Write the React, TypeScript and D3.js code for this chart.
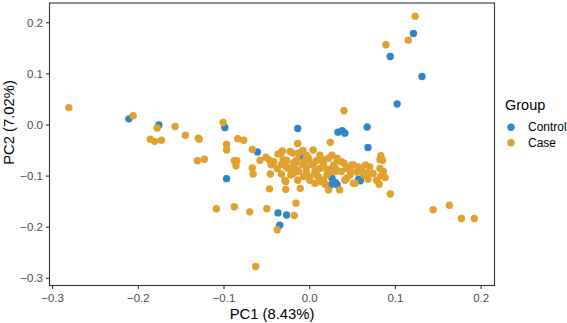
import React from 'react';
import { scaleLinear } from 'd3';

// PCA scores, [PC1, PC2]
const controlPoints: [number, number][] = [
  [-0.211, 0.012], [-0.176, 0.000], [-0.099, -0.005], [-0.097, -0.105],
  [-0.061, -0.053], [-0.014, -0.007], [0.033, -0.014], [0.038, -0.011],
  [0.041, -0.016], [0.067, -0.004], [0.068, -0.044], [0.102, 0.041],
  [0.131, 0.095], [0.094, 0.134], [0.121, 0.179], [-0.037, -0.172],
  [-0.027, -0.176], [-0.035, -0.196], [-0.009, -0.062], [-0.017, -0.072],
  [0.004, -0.078], [0.026, -0.104], [0.030, -0.113], [0.057, -0.106],
  [0.024, -0.118], [0.032, -0.117], [0.059, -0.109], [0.027, -0.084],
];

const casePoints: [number, number][] = [
  [-0.281, 0.034], [-0.206, 0.018], [-0.178, -0.006], [-0.157, -0.003],
  [-0.186, -0.028], [-0.181, -0.032], [-0.173, -0.030], [-0.145, -0.020],
  [-0.130, -0.026], [-0.129, -0.028], [-0.131, -0.070], [-0.123, -0.067],
  [-0.101, 0.005], [-0.097, -0.038], [-0.097, -0.049], [-0.084, -0.027],
  [-0.077, -0.030], [-0.088, -0.070], [-0.085, -0.070], [-0.086, -0.080],
  [-0.067, -0.048], [-0.067, -0.084], [-0.066, -0.096], [-0.058, -0.069],
  [-0.051, -0.063], [-0.047, -0.069], [-0.045, -0.078], [-0.037, -0.057],
  [-0.032, -0.051], [-0.027, -0.069], [-0.033, -0.077], [-0.020, -0.055],
  [-0.014, -0.036], [-0.013, -0.055], [-0.019, -0.075], [-0.017, -0.085],
  [-0.025, -0.085], [-0.046, -0.096], [-0.047, -0.125], [-0.028, -0.126],
  [-0.028, -0.111], [-0.011, -0.124], [-0.014, -0.108], [-0.033, -0.096],
  [-0.022, -0.098], [-0.109, -0.164], [-0.088, -0.160], [-0.070, -0.170],
  [-0.050, -0.164], [-0.016, -0.153], [-0.018, -0.177], [-0.038, -0.205],
  [-0.063, -0.277], [0.024, -0.034], [0.040, 0.028], [-0.008, -0.050],
  [-0.002, -0.063], [0.012, -0.059], [0.016, -0.068], [0.026, -0.059],
  [0.032, -0.065], [0.037, -0.072], [-0.004, -0.082], [0.006, -0.091],
  [0.020, -0.086], [0.030, -0.091], [0.045, -0.082], [0.051, -0.078],
  [0.057, -0.082], [0.065, -0.078], [0.070, -0.082], [0.082, -0.085],
  [0.074, -0.095], [0.083, -0.100], [0.063, -0.098], [0.043, -0.104],
  [0.051, -0.114], [0.081, -0.116], [0.000, -0.108], [0.010, -0.101],
  [0.012, -0.111], [0.018, -0.116], [0.035, -0.127], [0.022, -0.127],
  [-0.007, -0.101], [0.047, -0.088], [0.083, -0.060], [0.085, -0.069],
  [0.088, -0.103], [0.094, -0.135], [0.068, -0.106], [0.063, -0.093],
  [0.086, -0.091], [0.144, -0.166], [0.163, -0.157], [0.177, -0.183],
  [0.192, -0.183], [0.089, 0.157], [0.115, 0.166], [0.123, 0.213],
  [-0.001, -0.068], [0.004, -0.049],
  // dense core
  [-0.042, -0.072], [-0.033, -0.054], [-0.031, -0.068], [-0.027, -0.082],
  [-0.029, -0.108], [-0.015, -0.068], [-0.009, -0.078], [-0.013, -0.091],
  [-0.004, -0.091], [0.000, -0.101], [0.008, -0.098], [0.012, -0.085],
  [0.016, -0.075], [0.022, -0.065], [0.032, -0.070], [0.030, -0.085],
  [0.037, -0.091], [0.043, -0.085], [0.049, -0.078], [0.047, -0.098],
  [0.006, -0.114], [0.016, -0.108], [0.020, -0.098], [-0.019, -0.095],
  [-0.023, -0.052], [-0.004, -0.059], [0.004, -0.078], [0.041, -0.108],
  [0.067, -0.095], [0.082, -0.068], [0.078, -0.108], [0.053, -0.114],
  [0.008, -0.070], [-0.006, -0.070], [0.028, -0.078], [0.040, -0.075],
  [0.055, -0.092], [0.060, -0.088], [-0.038, -0.085], [0.024, -0.092],
];

const xTicks = [-0.3, -0.2, -0.1, 0.0, 0.1, 0.2];
const yTicks = [-0.3, -0.2, -0.1, 0.0, 0.1, 0.2];

const groups = [
  { name: 'Control', color: '#2E86C4' },
  { name: 'Case', color: '#E0A12F' },
];

const W = 567;
const H = 323;
const panel = { left: 49.5, right: 494.5, top: 3, bottom: 285.5 };
const font = '"Liberation Sans", Arial, Helvetica, sans-serif';

const fmt = (v: number) => (v < 0 ? '\u2212' : '') + Math.abs(v).toFixed(1);

export default function App() {
  const x = scaleLinear().domain([-0.3036, 0.2156]).range([panel.left, panel.right]);
  const y = scaleLinear().domain([-0.3141, 0.2387]).range([panel.bottom, panel.top]);

  return (
    <svg width={W} height={H} style={{ position: 'absolute', left: 0, top: 0, fontFamily: font }}>
      <rect width={W} height={H} fill="#fff" />

      {controlPoints.map(([a, b], i) => (
        <circle key={'ctl' + i} cx={x(a)} cy={y(b)} r={3.7} fill={groups[0].color} />
      ))}
      {casePoints.map(([a, b], i) => (
        <circle key={'case' + i} cx={x(a)} cy={y(b)} r={3.7} fill={groups[1].color} />
      ))}

      <rect
        x={panel.left}
        y={panel.top}
        width={panel.right - panel.left}
        height={panel.bottom - panel.top}
        fill="none"
        stroke="#333"
        strokeWidth={1.1}
      />

      {xTicks.map((t) => (
        <g key={'x' + t}>
          <line x1={x(t)} x2={x(t)} y1={panel.bottom} y2={panel.bottom + 3.5} stroke="#333" strokeWidth={1.1} />
          <text x={x(t)} y={302} textAnchor="middle" fontSize={11.5} fill="#4D4D4D">
            {fmt(t)}
          </text>
        </g>
      ))}
      {yTicks.map((t) => (
        <g key={'y' + t}>
          <line x1={panel.left - 3.5} x2={panel.left} y1={y(t)} y2={y(t)} stroke="#333" strokeWidth={1.1} />
          <text x={43} y={y(t) + 4.1} textAnchor="end" fontSize={11.5} fill="#4D4D4D">
            {fmt(t)}
          </text>
        </g>
      ))}

      <text x={272} y={318.5} textAnchor="middle" fontSize={14.8} fill="#000">
        PC1 (8.43%)
      </text>
      <text
        transform="translate(13.5,122.5) rotate(-90)"
        textAnchor="middle"
        fontSize={14.8}
        fill="#000"
      >
        PC2 (7.02%)
      </text>

      <text x={505} y={110} fontSize={14.5} fill="#000">
        Group
      </text>
      {groups.map((g, i) => (
        <g key={g.name}>
          <circle cx={511} cy={127.3 + i * 15.4} r={3.7} fill={g.color} />
          <text x={528} y={131.4 + i * 15.4} fontSize={12} fill="#000">
            {g.name}
          </text>
        </g>
      ))}
    </svg>
  );
}
